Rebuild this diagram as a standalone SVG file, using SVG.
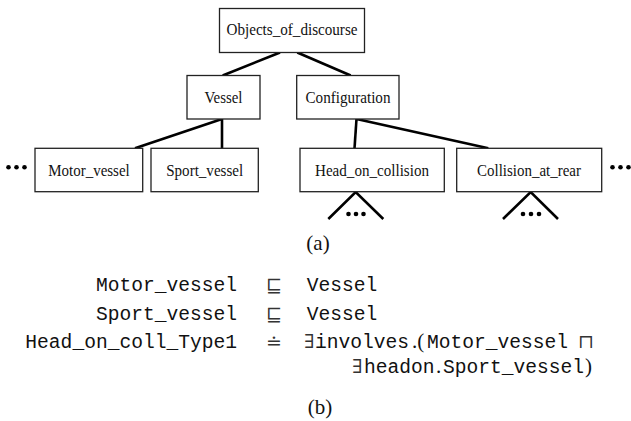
<svg xmlns="http://www.w3.org/2000/svg" width="631" height="421" viewBox="0 0 631 421">
<style>
.box{fill:#fff;stroke:#222;stroke-width:1.3}
.lbl{font-family:"Liberation Serif","Times New Roman",serif;font-size:17.5px;fill:#111;text-anchor:middle}
.con{stroke:#000;stroke-width:2.6;fill:none;stroke-linecap:butt}
.dot{fill:#000}
.tt{font-family:"Liberation Mono","Courier New",monospace;font-size:19.6px;fill:#111}
.sym{font-family:"DejaVu Serif","DejaVu Sans",serif;font-size:19px;fill:#333}
.rm{font-family:"Liberation Serif","Times New Roman",serif;font-size:21px;fill:#111}
.cap{font-family:"Liberation Serif","Times New Roman",serif;font-size:21px;fill:#111;text-anchor:middle}
</style>
<rect width="631" height="421" fill="#fff"/>
<g id="connectors">
<line class="con" x1="280" y1="52.5" x2="222.7" y2="75.5"/>
<line class="con" x1="297.3" y1="52.5" x2="350.7" y2="75.5"/>
<line class="con" x1="222" y1="119" x2="135" y2="148.3"/>
<line class="con" x1="222" y1="119" x2="222" y2="148.3"/>
<line class="con" x1="356.5" y1="119" x2="354.5" y2="148.3"/>
<line class="con" x1="356.5" y1="119" x2="488.3" y2="148.3"/>
<polyline class="con" points="328.3,219 355.7,192 383.3,219"/>
<polyline class="con" points="503,219 530.7,192 558,219"/>
</g>
<g id="objects_of_discourse">
<rect class="box" x="219.5" y="8.5" width="145" height="44"/>
<text class="lbl" x="292" y="35" textLength="131" lengthAdjust="spacingAndGlyphs">Objects_of_discourse</text>
</g>
<g id="vessel">
<rect class="box" x="187" y="75.5" width="73" height="43.5"/>
<text class="lbl" x="223.5" y="103" textLength="38" lengthAdjust="spacingAndGlyphs">Vessel</text>
</g>
<g id="configuration">
<rect class="box" x="296.7" y="75.5" width="102.3" height="43.5"/>
<text class="lbl" x="348" y="103" textLength="85" lengthAdjust="spacingAndGlyphs">Configuration</text>
</g>
<g id="motor_vessel">
<rect class="box" x="35" y="148.3" width="107.7" height="43.4"/>
<text class="lbl" x="89" y="176" textLength="81.5" lengthAdjust="spacingAndGlyphs">Motor_vessel</text>
</g>
<g id="sport_vessel">
<rect class="box" x="151" y="148.3" width="107.3" height="43.4"/>
<text class="lbl" x="204.7" y="176" textLength="77" lengthAdjust="spacingAndGlyphs">Sport_vessel</text>
</g>
<g id="head_on_collision">
<rect class="box" x="300" y="148.3" width="144.3" height="43.4"/>
<text class="lbl" x="372" y="176" textLength="114" lengthAdjust="spacingAndGlyphs">Head_on_collision</text>
</g>
<g id="collision_at_rear">
<rect class="box" x="456.7" y="148.3" width="145" height="43.4"/>
<text class="lbl" x="529" y="176" textLength="104" lengthAdjust="spacingAndGlyphs">Collision_at_rear</text>
</g>
<g id="dots">
<circle class="dot" cx="8.5" cy="167.3" r="2.3"/><circle class="dot" cx="16.5" cy="167.3" r="2.3"/><circle class="dot" cx="24.5" cy="167.3" r="2.3"/>
<circle class="dot" cx="612.5" cy="167.3" r="2.3"/><circle class="dot" cx="620.5" cy="167.3" r="2.3"/><circle class="dot" cx="628.5" cy="167.3" r="2.3"/>
<circle class="dot" cx="348.5" cy="214" r="2.3"/><circle class="dot" cx="356" cy="214" r="2.3"/><circle class="dot" cx="363.5" cy="214" r="2.3"/>
<circle class="dot" cx="523" cy="214" r="2.3"/><circle class="dot" cx="531" cy="214" r="2.3"/><circle class="dot" cx="539" cy="214" r="2.3"/>
</g>
<text class="cap" x="318" y="250">(a)</text>
<g id="formulas">
<text class="tt" x="237" y="291" text-anchor="end">Motor_vessel</text>
<text class="tt" x="237" y="320" text-anchor="end">Sport_vessel</text>
<text class="tt" x="237" y="348" text-anchor="end">Head_on_coll_Type1</text>
<text class="sym" x="274" y="292" text-anchor="middle">⊑</text>
<text class="sym" x="274" y="321" text-anchor="middle">⊑</text>
<text class="sym" x="274" y="349" text-anchor="middle">≐</text>
<text class="tt" x="306.7" y="291">Vessel</text>
<text class="tt" x="306.7" y="320">Vessel</text>
<text class="sym" x="304" y="348">∃</text>
<text class="tt" x="315" y="348">involves</text>
<text class="rm" x="412" y="348">.(</text>
<text class="tt" x="427" y="348">Motor_vessel</text>
<text class="sym" x="578" y="348">⊓</text>
<text class="sym" x="352" y="373">∃</text>
<text class="tt" x="364" y="373">headon</text>
<text class="rm" x="436" y="373">.</text>
<text class="tt" x="443" y="373">Sport_vessel</text>
<text class="rm" x="585" y="373">)</text>
</g>
<text class="cap" x="320" y="414">(b)</text>
</svg>
